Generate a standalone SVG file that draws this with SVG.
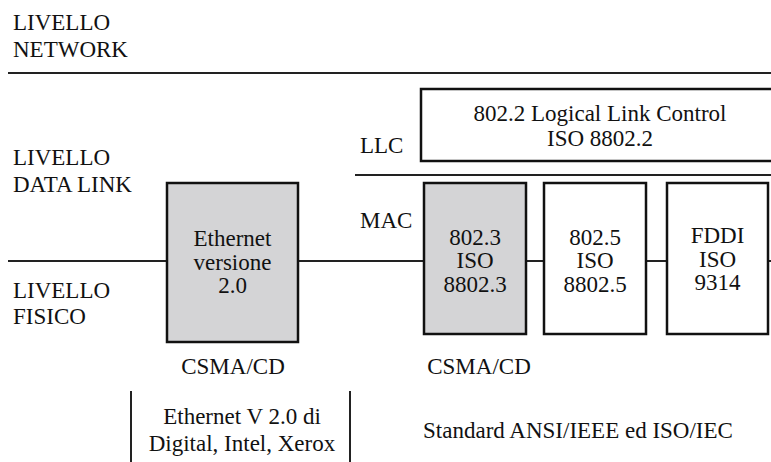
<svg xmlns="http://www.w3.org/2000/svg" width="771" height="462" viewBox="0 0 771 462">
<style>
text{font-family:"Liberation Serif","Times New Roman",serif;font-size:23px;fill:#111}
.c{text-anchor:middle}
.ln{stroke:#222;stroke-width:2;fill:none}
.box{stroke:#111;stroke-width:2.5}
.g{fill:#d4d4d6}
.w{fill:#fff}
</style>
<rect width="771" height="462" fill="#fff"/>
<g id="connectors">
<line class="ln" x1="8" y1="73" x2="771" y2="73"/>
<line class="ln" x1="355" y1="175" x2="771" y2="175"/>
<line class="ln" x1="8" y1="261" x2="771" y2="261"/>
<line class="ln" x1="131" y1="391" x2="131" y2="462"/>
<line class="ln" x1="350" y1="391" x2="350" y2="462"/>
</g>
<g id="labels">
<text x="13" y="30">LIVELLO</text>
<text x="13" y="57">NETWORK</text>
<text x="13" y="165">LIVELLO</text>
<text x="13" y="192">DATA LINK</text>
<text x="13" y="298">LIVELLO</text>
<text x="13" y="324">FISICO</text>
<text x="360" y="153">LLC</text>
<text x="360" y="228">MAC</text>
<text class="c" x="233" y="374">CSMA/CD</text>
<text class="c" x="479" y="374">CSMA/CD</text>
<text class="c" x="242" y="424">Ethernet V 2.0 di</text>
<text class="c" x="242" y="451">Digital, Intel, Xerox</text>
<text class="c" x="578" y="438">Standard ANSI/IEEE ed ISO/IEC</text>
</g>
<g id="llc">
<rect class="box w" x="421" y="89" width="352" height="72"/>
<text class="c" x="600" y="121">802.2 Logical Link Control</text>
<text class="c" x="600" y="146">ISO 8802.2</text>
</g>
<g id="ethernet">
<rect class="box g" x="167" y="183" width="131" height="159"/>
<text class="c" x="232.5" y="246">Ethernet</text>
<text class="c" x="232.5" y="270">versione</text>
<text class="c" x="232.5" y="293">2.0</text>
</g>
<g id="n8023">
<rect class="box g" x="424" y="183" width="102" height="151"/>
<text class="c" x="475" y="245">802.3</text>
<text class="c" x="475" y="268">ISO</text>
<text class="c" x="475" y="292">8802.3</text>
</g>
<g id="n8025">
<rect class="box w" x="544" y="183" width="102" height="151"/>
<text class="c" x="595" y="245">802.5</text>
<text class="c" x="595" y="268">ISO</text>
<text class="c" x="595" y="292">8802.5</text>
</g>
<g id="fddi">
<rect class="box w" x="667" y="183" width="101" height="151"/>
<text class="c" x="717.5" y="243">FDDI</text>
<text class="c" x="717.5" y="267">ISO</text>
<text class="c" x="717.5" y="290">9314</text>
</g>
</svg>
